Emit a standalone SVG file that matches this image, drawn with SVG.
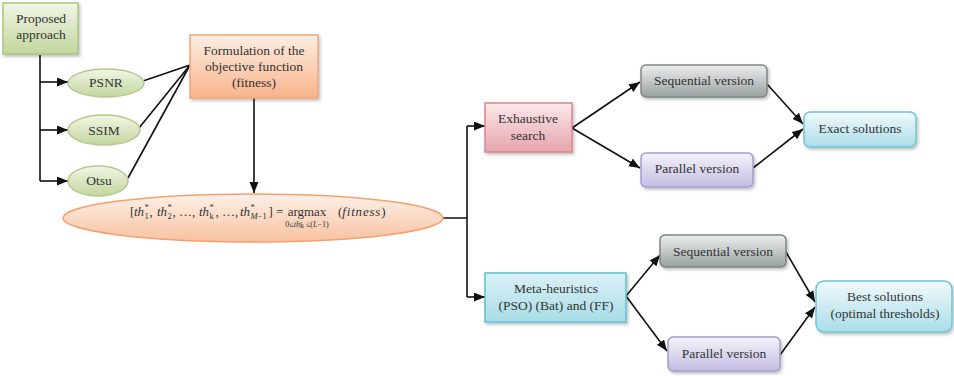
<svg xmlns="http://www.w3.org/2000/svg" width="954" height="376" viewBox="0 0 954 376" font-family="'Liberation Serif', 'Times New Roman', serif">
<defs>
<linearGradient id="gGreen" x1="0" y1="0" x2="0" y2="1"><stop offset="0" stop-color="#f1f6e6"/><stop offset="1" stop-color="#c3d69d"/></linearGradient>
<linearGradient id="gOrange" x1="0" y1="0" x2="0" y2="1"><stop offset="0" stop-color="#fdeee4"/><stop offset="1" stop-color="#f8b48a"/></linearGradient>
<linearGradient id="gPeach" x1="0" y1="0" x2="0" y2="1"><stop offset="0" stop-color="#fdf0e7"/><stop offset="1" stop-color="#f7c2a0"/></linearGradient>
<linearGradient id="gPink" x1="0" y1="0" x2="0" y2="1"><stop offset="0" stop-color="#fbe9eb"/><stop offset="1" stop-color="#e6a4ab"/></linearGradient>
<linearGradient id="gGray" x1="0" y1="0" x2="0" y2="1"><stop offset="0" stop-color="#eeefef"/><stop offset="1" stop-color="#98a0a0"/></linearGradient>
<linearGradient id="gLav" x1="0" y1="0" x2="0" y2="1"><stop offset="0" stop-color="#f5f3fb"/><stop offset="1" stop-color="#c4bce2"/></linearGradient>
<linearGradient id="gCyan" x1="0" y1="0" x2="0" y2="1"><stop offset="0" stop-color="#f2fafc"/><stop offset="1" stop-color="#a9dde7"/></linearGradient>
<linearGradient id="gMeta" x1="0" y1="0" x2="0" y2="1"><stop offset="0" stop-color="#dcf2f6"/><stop offset="1" stop-color="#a8dce6"/></linearGradient>
<filter id="sh" x="-10%" y="-10%" width="125%" height="135%"><feDropShadow dx="1.5" dy="2" stdDeviation="1.5" flood-color="#000" flood-opacity="0.25"/></filter>
<marker id="ah" markerUnits="userSpaceOnUse" markerWidth="12" markerHeight="10" refX="11" refY="4.5" orient="auto"><path d="M0,0 L11,4.5 L0,9 z" fill="#111"/></marker>
</defs>
<style>
text{font-family:"Liberation Serif","Times New Roman",serif;font-size:13.5px;fill:#333;text-anchor:middle}
.eq{font-size:13px;text-anchor:start}
.it{font-style:italic}
.sm{font-size:8.5px;text-anchor:start}
.c{fill:none;stroke:#111;stroke-width:1.6}
.a{marker-end:url(#ah)}
</style>
<rect width="954" height="376" fill="#fff"/>
<g id="connectors">
<path class="c" d="M40,55 V181"/>
<path class="c a" d="M40,82 H68"/>
<path class="c a" d="M40,130 H68"/>
<path class="c a" d="M40,181 H68"/>
<path class="c" d="M143,81 L190,65 M139,128 L190,65 M128,178 L190,65"/>
<path class="c a" d="M254,98 V193"/>
<path class="c" d="M443,218 H467 M467,126 V297"/>
<path class="c a" d="M467,126 H485"/>
<path class="c a" d="M467,297 H485"/>
<path class="c a" d="M572,128 L640,82"/>
<path class="c a" d="M572,128 L640,168"/>
<path class="c a" d="M767,84 L803,124"/>
<path class="c a" d="M753,168 L803,129"/>
<path class="c a" d="M626,296 L660,255"/>
<path class="c a" d="M626,296 L667,351"/>
<path class="c a" d="M786,252 L815,302"/>
<path class="c a" d="M780,355 L815,307"/>
</g>
<g id="proposed">
<rect x="3" y="3" width="75" height="51" fill="url(#gGreen)" stroke="#a9c47f" stroke-width="1.5" filter="url(#sh)"/>
<text x="41" y="23">Proposed</text>
<text x="41" y="39">approach</text>
</g>
<g id="psnr">
<ellipse cx="106" cy="83" rx="38" ry="14" fill="url(#gGreen)" stroke="#b5c98e" stroke-width="1.5"/>
<text x="106" y="87">PSNR</text>
</g>
<g id="ssim">
<ellipse cx="104" cy="130" rx="36" ry="15" fill="url(#gGreen)" stroke="#b5c98e" stroke-width="1.5"/>
<text x="104" y="135">SSIM</text>
</g>
<g id="otsu">
<ellipse cx="98" cy="181" rx="30" ry="15" fill="url(#gGreen)" stroke="#b5c98e" stroke-width="1.5"/>
<text x="99" y="185">Otsu</text>
</g>
<g id="formulation">
<rect x="190" y="35" width="128" height="63" fill="url(#gOrange)" stroke="#f4a57a" stroke-width="1.5" filter="url(#sh)"/>
<text x="254" y="55">Formulation of the</text>
<text x="254" y="71">objective function</text>
<text x="254" y="87">(fitness)</text>
</g>
<g id="equation">
<ellipse cx="253" cy="218" rx="190" ry="24" fill="url(#gPeach)" stroke="#f4a070" stroke-width="1.5"/>
<text class="eq" x="130" y="216">[</text>
<text class="eq it" x="134" y="216">th</text>
<text class="sm" x="144.5" y="219">1</text>
<text class="sm" x="144.5" y="210">*</text>
<text class="eq" x="149.5" y="216">,</text>
<text class="eq it" x="157" y="216">th</text>
<text class="sm" x="167.5" y="219">2</text>
<text class="sm" x="167.5" y="210">*</text>
<text class="eq" x="172.5" y="216">, …,</text>
<text class="eq it" x="199" y="216">th</text>
<text class="sm" x="209.5" y="219">k</text>
<text class="sm" x="209.5" y="210">*</text>
<text class="eq" x="215.5" y="216">, …,</text>
<text class="eq it" x="240" y="216">th</text>
<text class="sm" x="250.5" y="219"><tspan class="it">M</tspan>−1</text>
<text class="sm" x="250.5" y="210">*</text>
<text class="eq" x="268.5" y="216">]</text>
<text class="eq" x="276" y="216">=</text>
<text x="307" y="216" style="font-size:13px">argmax</text>
<text x="307" y="227" style="font-size:8px">0≤<tspan class="it">th</tspan><tspan dy="1">k</tspan><tspan dy="-1"> ≤(</tspan><tspan class="it">L</tspan>−1)</text>
<text class="eq" x="338" y="216">(<tspan class="it" letter-spacing="0.8">fitness</tspan>)</text>
</g>
<g id="exhaustive">
<rect x="485" y="103" width="87" height="49" fill="url(#gPink)" stroke="#d9868f" stroke-width="1.5" filter="url(#sh)"/>
<text x="528" y="123">Exhaustive</text>
<text x="528" y="140">search</text>
</g>
<g id="seq1">
<rect x="641" y="65" width="126" height="32" rx="5" fill="url(#gGray)" stroke="#7f8585" stroke-width="1.5" filter="url(#sh)"/>
<text x="704" y="85">Sequential version</text>
</g>
<g id="par1">
<rect x="641" y="153" width="112" height="34" rx="5" fill="url(#gLav)" stroke="#a79ccf" stroke-width="1.5" filter="url(#sh)"/>
<text x="697" y="173">Parallel version</text>
</g>
<g id="exact">
<rect x="804" y="112" width="112" height="35" rx="6" fill="url(#gCyan)" stroke="#6cc5d4" stroke-width="1.5" filter="url(#sh)"/>
<text x="860" y="133">Exact solutions</text>
</g>
<g id="meta">
<rect x="485" y="273" width="141" height="49" fill="url(#gMeta)" stroke="#5fc1d2" stroke-width="1.5" filter="url(#sh)"/>
<text x="556" y="293">Meta-heuristics</text>
<text x="556" y="310">(PSO) (Bat) and (FF)</text>
</g>
<g id="seq2">
<rect x="660" y="235" width="126" height="32" rx="5" fill="url(#gGray)" stroke="#7f8585" stroke-width="1.5" filter="url(#sh)"/>
<text x="723" y="256">Sequential version</text>
</g>
<g id="par2">
<rect x="668" y="337" width="112" height="34" rx="5" fill="url(#gLav)" stroke="#a79ccf" stroke-width="1.5" filter="url(#sh)"/>
<text x="724" y="358">Parallel version</text>
</g>
<g id="best">
<rect x="816" y="281" width="136" height="51" rx="8" fill="url(#gCyan)" stroke="#6cc5d4" stroke-width="1.5" filter="url(#sh)"/>
<text x="885" y="301">Best solutions</text>
<text x="885" y="318">(optimal thresholds)</text>
</g>
</svg>
